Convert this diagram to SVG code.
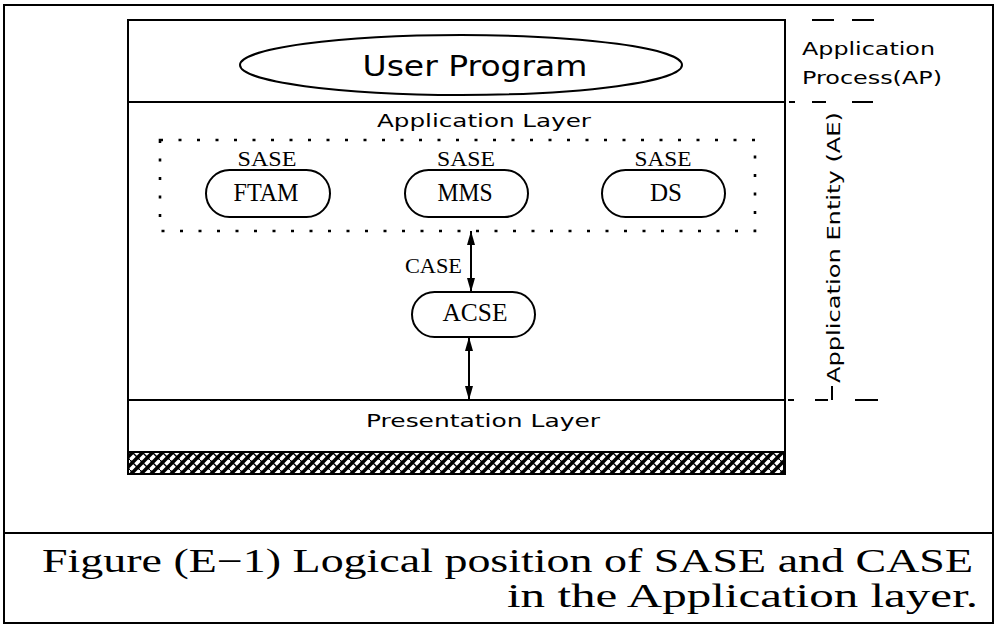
<svg xmlns="http://www.w3.org/2000/svg" width="998" height="625" viewBox="0 0 998 625">
<style>
.ln{fill:none;stroke:#000;stroke-width:2}
.pill{fill:#fff;stroke:#000;stroke-width:2}
.sans{font-family:"DejaVu Sans","Liberation Sans",sans-serif;fill:#000}
.serif{font-family:"Liberation Serif","DejaVu Serif",serif;fill:#000}
.dash{stroke:#000;stroke-width:2}
</style>
<defs>
<marker id="ah" viewBox="0 0 14 16" refX="14" refY="8" markerWidth="14" markerHeight="16" markerUnits="userSpaceOnUse" orient="auto-start-reverse">
<path d="M0,4 L14,8 L0,12 Z" fill="#000"/>
</marker>
<pattern id="hatch" patternUnits="userSpaceOnUse" width="10" height="10">
<rect width="10" height="10" fill="#000"/>
<path d="M-1,11 L11,-1 M-6,6 L6,-6 M4,16 L16,4" stroke="#fff" stroke-width="3.6"/>
<path d="M0,0 L10,10" stroke="#000" stroke-width="1.4"/>
</pattern>
</defs>
<rect width="998" height="625" fill="#fff"/>
<g id="frame">
<rect x="4" y="5" width="989" height="618" class="ln"/>
<line x1="4" y1="533" x2="993" y2="533" class="ln"/>
</g>
<g id="layers">
<rect x="128" y="20" width="657" height="454" class="ln"/>
<line x1="128" y1="102" x2="785" y2="102" class="ln"/>
<line x1="128" y1="400" x2="785" y2="400" class="ln"/>
<rect x="128" y="452" width="656" height="22" fill="url(#hatch)" stroke="#000" stroke-width="2"/>
<text x="484" y="127" class="sans" font-size="18" text-anchor="middle" textLength="214" lengthAdjust="spacingAndGlyphs">Application Layer</text>
<text x="483" y="427" class="sans" font-size="18" text-anchor="middle" textLength="234" lengthAdjust="spacingAndGlyphs">Presentation Layer</text>
</g>
<g id="user-program">
<ellipse cx="461" cy="65" rx="221" ry="30" class="pill"/>
<text x="475" y="76" class="sans" font-size="28" text-anchor="middle" textLength="225" lengthAdjust="spacingAndGlyphs">User Program</text>
</g>
<g id="sase-group">
<rect x="160" y="140" width="595" height="91" fill="none" stroke="#000" stroke-width="2.6" stroke-dasharray="3 15.5"/>
</g>
<g id="ftam">
<text x="267" y="166" class="serif" font-size="22" text-anchor="middle" textLength="59" lengthAdjust="spacingAndGlyphs">SASE</text>
<rect x="206" y="170" width="124" height="47" rx="23.5" class="pill"/>
<text x="266" y="201" class="serif" font-size="26" text-anchor="middle" textLength="65" lengthAdjust="spacingAndGlyphs">FTAM</text>
</g>
<g id="mms">
<text x="466" y="166" class="serif" font-size="22" text-anchor="middle" textLength="58" lengthAdjust="spacingAndGlyphs">SASE</text>
<rect x="405" y="170" width="123" height="47" rx="23.5" class="pill"/>
<text x="465" y="201" class="serif" font-size="26" text-anchor="middle" textLength="55" lengthAdjust="spacingAndGlyphs">MMS</text>
</g>
<g id="ds">
<text x="663" y="166" class="serif" font-size="22" text-anchor="middle" textLength="57" lengthAdjust="spacingAndGlyphs">SASE</text>
<rect x="602" y="170" width="123" height="47" rx="23.5" class="pill"/>
<text x="666" y="201" class="serif" font-size="26" text-anchor="middle" textLength="32" lengthAdjust="spacingAndGlyphs">DS</text>
</g>
<g id="acse">
<rect x="412" y="292" width="123" height="45" rx="22.5" class="pill"/>
<text x="475" y="321" class="serif" font-size="26" text-anchor="middle" textLength="65" lengthAdjust="spacingAndGlyphs">ACSE</text>
</g>
<g id="connectors">
<line x1="471" y1="231" x2="471" y2="292" stroke="#000" stroke-width="2" marker-start="url(#ah)" marker-end="url(#ah)"/>
<text x="462" y="273" class="serif" font-size="22" text-anchor="end" textLength="57" lengthAdjust="spacingAndGlyphs">CASE</text>
<line x1="469" y1="337" x2="469" y2="400" stroke="#000" stroke-width="2" marker-start="url(#ah)" marker-end="url(#ah)"/>
</g>
<g id="side-labels">
<line x1="812" y1="20" x2="834" y2="20" class="dash"/>
<line x1="852" y1="20" x2="874" y2="20" class="dash"/>
<line x1="789" y1="102" x2="795" y2="102" class="dash"/>
<line x1="812" y1="102" x2="826" y2="102" class="dash"/>
<line x1="852" y1="102" x2="873" y2="102" class="dash"/>
<line x1="788" y1="400" x2="794" y2="400" class="dash"/>
<line x1="815" y1="400" x2="828" y2="400" class="dash"/>
<line x1="832" y1="386" x2="832" y2="400" class="dash"/>
<line x1="855" y1="400" x2="878" y2="400" class="dash"/>
<text x="802" y="55" class="sans" font-size="18" textLength="133" lengthAdjust="spacingAndGlyphs">Application</text>
<text x="802" y="84" class="sans" font-size="18" textLength="140" lengthAdjust="spacingAndGlyphs">Process(AP)</text>
<text transform="translate(840,247.5) rotate(-90)" x="0" y="0" class="sans" font-size="18" text-anchor="middle" textLength="271" lengthAdjust="spacingAndGlyphs">Application Entity (AE)</text>
</g>
<g id="caption">
<text x="42" y="572" class="serif" font-size="33" textLength="931" lengthAdjust="spacingAndGlyphs">Figure (E−1) Logical position of SASE and CASE</text>
<text x="978" y="607" class="serif" font-size="33" text-anchor="end" textLength="471" lengthAdjust="spacingAndGlyphs">in the Application layer.</text>
</g>
</svg>
